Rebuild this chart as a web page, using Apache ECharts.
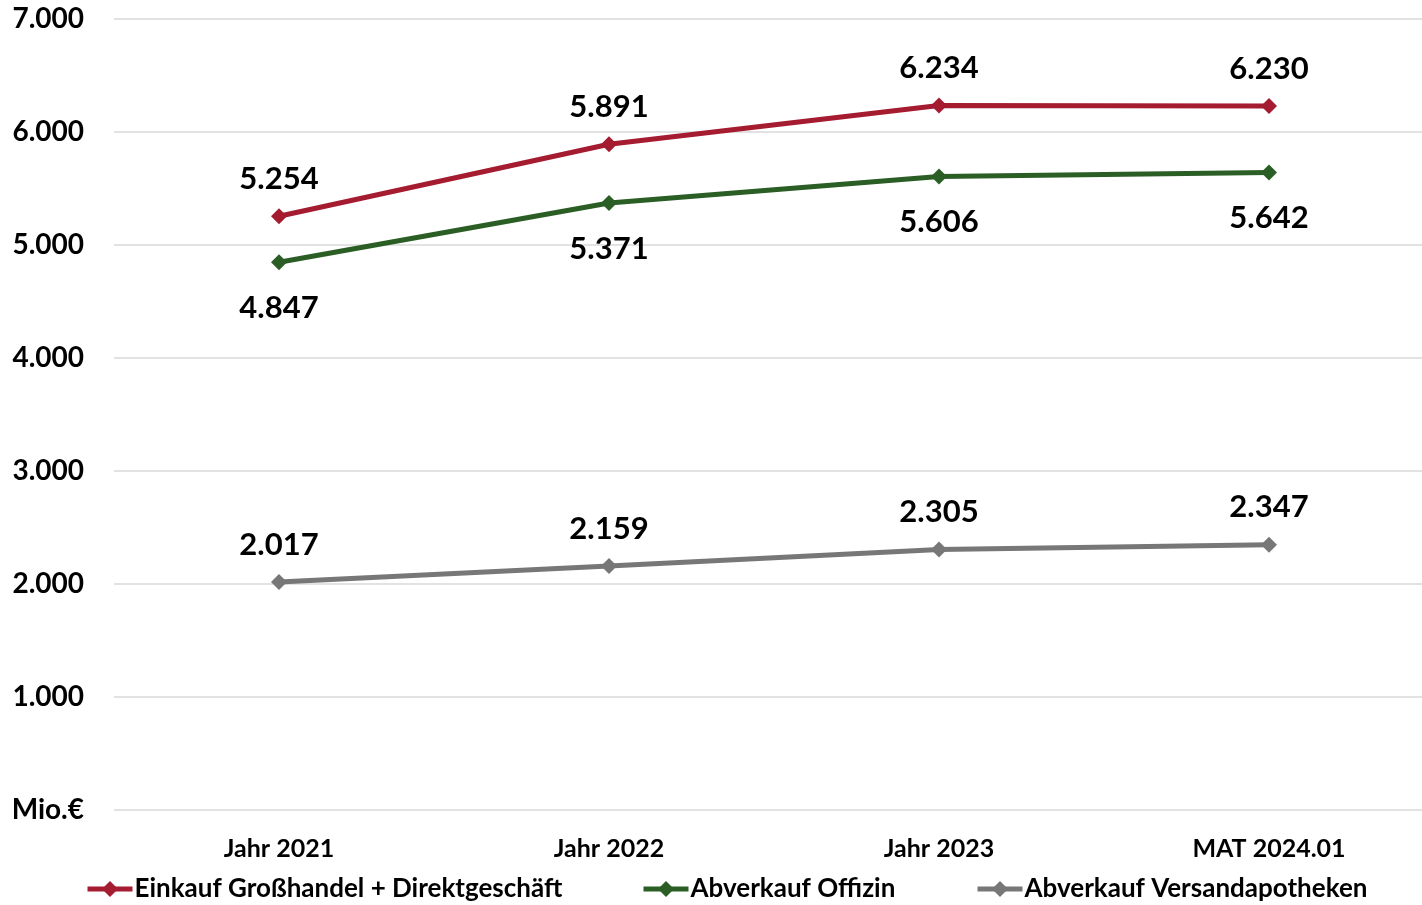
<!DOCTYPE html>
<html>
<head>
<meta charset="utf-8">
<script src="https://cdn.jsdelivr.net/npm/echarts@6/dist/echarts.min.js"></script>
<style>html,body{margin:0;padding:0;background:#fff}#c{width:1422px;height:905px}</style>
</head>
<body>
<div id="c"></div>
<script>
const categories = ['Jahr 2021', 'Jahr 2022', 'Jahr 2023', 'MAT 2024.01'];
const seriesNames = ['Einkauf Großhandel + Direktgeschäft', 'Abverkauf Offizin', 'Abverkauf Versandapotheken'];
const einkauf = [5254, 5891, 6234, 6230];
const offizin = [4847, 5371, 5606, 5642];
const versand = [2017, 2159, 2305, 2347];
const yTicks = [0, 1000, 2000, 3000, 4000, 5000, 6000, 7000];
const zeroLabel = 'Mio.€';

const colors = ['#A51B30', '#2A5E25', '#777777'];
const FONT = 'Lato';
const W = 'bold';
function fmt(v) {
  return String(Math.round(v)).replace(/\B(?=(\d{3})+(?!\d))/g, '.');
}
const chart = echarts.init(document.getElementById('c'));
const dataSets = [einkauf, offizin, versand];
const positions = ['top', 'bottom', 'top'];
const distances = [14, 22, 14];
chart.setOption({
  animation: false,
  textStyle: { fontFamily: FONT },
  grid: { left: 114, top: 19, width: 1320, bottom: 95, containLabel: false, outerBoundsMode: 'none' },
  xAxis: {
    type: 'category',
    data: categories,
    boundaryGap: true,
    axisLine: { show: false },
    axisTick: { show: false },
    axisLabel: { color: '#000', fontFamily: FONT, fontWeight: W, fontSize: 25, margin: 26 }
  },
  yAxis: {
    type: 'value',
    min: yTicks[0],
    max: yTicks[yTicks.length - 1],
    interval: 1000,
    axisLine: { show: false },
    axisTick: { show: false },
    splitLine: { lineStyle: { color: '#D9D9D9', width: 1.5 } },
    axisLabel: {
      color: '#000', fontFamily: FONT, fontWeight: W, fontSize: 28, margin: 30,
      formatter: v => v === 0 ? zeroLabel : fmt(v)
    }
  },
  legend: seriesNames.map((n, i) => ({
    data: [n],
    left: [85, 641, 975][i],
    top: 876,
    padding: 0,
    itemWidth: 45,
    itemHeight: 20,
    itemGap: 0,
    lineStyle: { width: 5 },
    textStyle: { color: '#000', fontFamily: FONT, fontWeight: W, fontSize: 26, padding: [0, 0, 0, -3] }
  })),
  series: seriesNames.map((n, i) => ({
    name: n,
    type: 'line',
    data: dataSets[i],
    symbol: 'diamond',
    symbolSize: 16,
    color: colors[i],
    lineStyle: { width: 5, color: colors[i] },
    itemStyle: { color: colors[i] },
    label: {
      show: true,
      position: positions[i],
      distance: distances[i],
      color: '#000',
      fontFamily: FONT,
      fontWeight: W,
      fontSize: 31,
      formatter: p => fmt(p.value)
    }
  }))
});
</script>
</body>
</html>
